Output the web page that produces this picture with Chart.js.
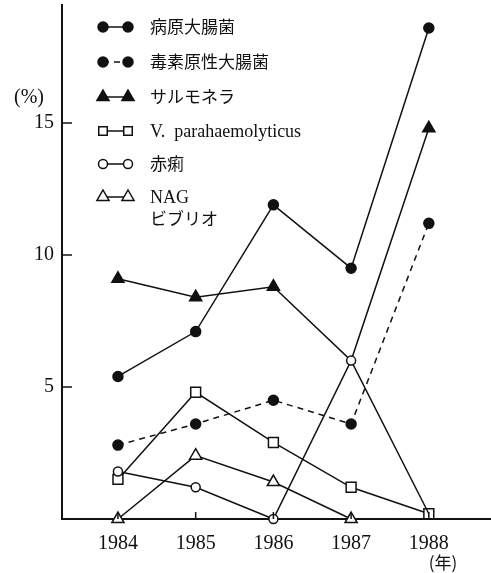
<!DOCTYPE html>
<html lang="ja">
<head>
<meta charset="UTF-8">
<title>Chart</title>
<script src="https://cdn.jsdelivr.net/npm/chart.js@4.4.0/dist/chart.umd.min.js"></script>
<style>
  body { margin: 0; background: #fff; }
  #wrap { width: 491px; height: 573px; }
</style>
</head>
<body>
<div id="wrap"><canvas id="chart" width="491" height="573"></canvas></div>
<script>
// data (percent per year)
const years = [1984, 1985, 1986, 1987, 1988];
const pathogenicEColi = [5.4, 7.1, 11.9, 9.5, 18.6];
const toxigenicEColi = [2.8, 3.6, 4.5, 3.6, 11.2];
const salmonella = [9.1, 8.4, 8.8, 6.0, 14.8];
const vPara = [1.5, 4.8, 2.9, 1.2, 0.2];
const dysentery = [1.8, 1.2, 0, 6.0, 0.2];
const nagVibrio = [0, 2.4, 1.4, 0, null];
const yTicks = [5, 10, 15];
const seriesNames = ['病原大腸菌', '毒素原性大腸菌', 'サルモネラ', 'V.  parahaemolyticus', '赤痢', 'NAG'];

const INK = '#111';
const SERIF = '"Liberation Serif", "DejaVu Serif", serif';
const CJK = '"Noto Sans CJK JP", sans-serif';
const Y_MAX = 19.47;
const X_MIN = 1983.28, X_MAX = 1988.8;

function pts(vals) {
  return years.map((y, i) => ({ x: y, y: vals[i] })).filter(p => p.y !== null);
}

function series(label, vals, opts) {
  return Object.assign({
    label: label,
    data: pts(vals),
    borderColor: INK,
    borderWidth: 1.5,
    pointBorderColor: INK,
    pointBorderWidth: 1.5,
    tension: 0,
    clip: false
  }, opts);
}

const datasets = [
  series(seriesNames[0], pathogenicEColi, { pointStyle: 'circle', pointRadius: 5, pointBackgroundColor: INK }),
  series(seriesNames[1], toxigenicEColi, { pointStyle: 'circle', pointRadius: 5, pointBackgroundColor: INK, borderDash: [6, 5] }),
  series(seriesNames[2], salmonella, { pointStyle: 'triangle', pointRadius: [7, 7, 7, 0, 7], pointBackgroundColor: INK }),
  series(seriesNames[3], vPara, { pointStyle: 'rect', pointRadius: 7, pointBackgroundColor: '#fff', order: -1 }),
  series(seriesNames[4], dysentery, { pointStyle: 'circle', pointRadius: [4.5, 4.5, 4.5, 4.5, 0], pointBackgroundColor: '#fff', order: -2 }),
  series(seriesNames[5], nagVibrio, { pointStyle: 'triangle', pointRadius: 7, pointBackgroundColor: '#fff', order: -1 })
];

// draw a small marker like the legend symbols
function mark(ctx, style, x, y, r, fill) {
  ctx.beginPath();
  if (style === 'circle') {
    ctx.arc(x, y, r, 0, Math.PI * 2);
  } else if (style === 'triangle') {
    ctx.moveTo(x, y - r);
    ctx.lineTo(x + r * 0.866, y + r / 2);
    ctx.lineTo(x - r * 0.866, y + r / 2);
    ctx.closePath();
  } else {
    const s = r * Math.SQRT1_2;
    ctx.rect(x - s, y - s, s * 2, s * 2);
  }
  ctx.fillStyle = fill;
  ctx.fill();
  ctx.stroke();
}

const extras = {
  id: 'extras',
  afterDraw(chart) {
    const ctx = chart.ctx;
    const xs = chart.scales.x, ys = chart.scales.y;
    ctx.save();
    ctx.strokeStyle = INK;
    ctx.lineWidth = 1.5;
    // inward tick marks
    yTicks.forEach(v => {
      const py = ys.getPixelForValue(v);
      ctx.beginPath();
      ctx.moveTo(xs.left, py);
      ctx.lineTo(xs.left + 10, py);
      ctx.stroke();
    });
    years.forEach(v => {
      const px = xs.getPixelForValue(v);
      ctx.beginPath();
      ctx.moveTo(px, ys.bottom);
      ctx.lineTo(px, ys.bottom - 7);
      ctx.stroke();
    });

    // legend
    const rowsY = [27, 62, 97, 131, 164, 197];
    const x1 = 103, x2 = 128, tx = 150;
    datasets.forEach((ds, i) => {
      const y = rowsY[i];
      ctx.setLineDash(ds.borderDash || []);
      ctx.beginPath();
      ctx.moveTo(x1, y);
      ctx.lineTo(x2, y);
      ctx.stroke();
      ctx.setLineDash([]);
      let r = Array.isArray(ds.pointRadius) ? ds.pointRadius[0] : ds.pointRadius;
      if (ds.pointStyle === 'rect') r = 6;
      if (ds.pointStyle === 'triangle') r = 7;
      mark(ctx, ds.pointStyle, x1, y, r, ds.pointBackgroundColor);
      mark(ctx, ds.pointStyle, x2, y, r, ds.pointBackgroundColor);
      ctx.fillStyle = INK;
      ctx.textAlign = 'left';
      ctx.textBaseline = 'middle';
      const latin = /^[\x00-\x7f]+$/.test(ds.label);
      ctx.font = latin ? '18px ' + SERIF : '17px ' + CJK;
      ctx.fillText(ds.label, tx, y + (latin ? 1 : 0));
    });
    ctx.font = '17px ' + CJK;
    ctx.fillText('ビブリオ', tx, 219);

    // axis unit labels
    ctx.font = '20px ' + SERIF;
    ctx.textAlign = 'center';
    ctx.fillText('(%)', 29, 98);
    ctx.font = '17px ' + CJK;
    ctx.fillText('(年)', 443, 563);
    ctx.restore();
  }
};

new Chart(document.getElementById('chart'), {
  type: 'line',
  data: { datasets: datasets },
  options: {
    responsive: false,
    animation: false,
    layout: { autoPadding: false, padding: { top: 5, right: 0, left: 0, bottom: 0 } },
    plugins: { legend: { display: false }, tooltip: { enabled: false } },
    scales: {
      x: {
        type: 'linear',
        bounds: 'data',
        min: X_MIN,
        max: X_MAX,
        afterBuildTicks: s => {
          s.ticks = years.map(v => ({ value: v }));
          s.min = X_MIN; s.max = X_MAX;
        },
        afterFit: s => { s.height = 54; s.paddingLeft = 0; s.paddingRight = 0; },
        grid: { display: false, drawTicks: false },
        border: { display: true, color: INK, width: 2 },
        ticks: {
          color: INK,
          font: { family: SERIF, size: 20 },
          padding: 13,
          autoSkip: false,
          maxRotation: 0,
          callback: v => String(v)
        }
      },
      y: {
        bounds: 'data',
        min: 0,
        max: Y_MAX,
        afterBuildTicks: s => {
          s.ticks = yTicks.map(v => ({ value: v }));
          s.min = 0; s.max = Y_MAX;
        },
        afterFit: s => { s.width = 62; s.paddingTop = 0; s.paddingBottom = 0; },
        grid: { display: false, drawTicks: false },
        border: { display: true, color: INK, width: 2 },
        ticks: {
          color: INK,
          font: { family: SERIF, size: 20 },
          padding: 8,
          callback: v => String(v)
        }
      }
    }
  },
  plugins: [extras]
});
</script>
</body>
</html>
